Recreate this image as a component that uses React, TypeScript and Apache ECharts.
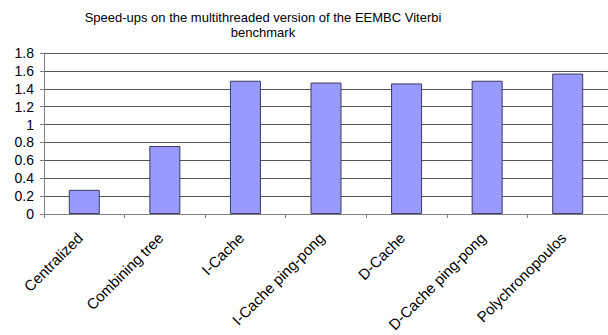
import React, { useEffect, useRef } from "react";
import * as echarts from "echarts";

const categories = [
  "Centralized",
  "Combining tree",
  "I-Cache",
  "I-Cache ping-pong",
  "D-Cache",
  "D-Cache ping-pong",
  "Polychronopoulos",
];
const speedups = [0.27, 0.76, 1.49, 1.47, 1.46, 1.49, 1.57];
const yTicks = { min: 0, max: 1.8, interval: 0.2 };
const titleText = "Speed-ups on the multithreaded version of the EEMBC Viterbi\nbenchmark";

const FONT = "'Liberation Sans', Arial, sans-serif";

export default function App() {
  const ref = useRef<HTMLDivElement>(null);

  useEffect(() => {
    if (!ref.current) return;
    const chart = echarts.init(ref.current, undefined, { renderer: "svg" });
    chart.setOption({
      animation: false,
      backgroundColor: "#ffffff",
      title: {
        text: titleText,
        left: 263,
        top: 10,
        padding: 0,
        textAlign: "center",
        textStyle: {
          fontFamily: FONT,
          fontSize: 13,
          fontWeight: "normal",
          color: "#000",
          lineHeight: 15,
        },
      },
      grid: {
        left: 44,
        right: 0,
        top: 53,
        bottom: 121,
        containLabel: false,
        outerBoundsMode: "none",
      },
      xAxis: {
        type: "category",
        data: categories,
        axisLine: { lineStyle: { color: "#808080", width: 1 } },
        axisTick: { show: true, length: 4, lineStyle: { color: "#808080" } },
        axisLabel: {
          rotate: 45,
          interval: 0,
          margin: 17,
          padding: [0, 6, 0, 0],
          fontFamily: FONT,
          fontSize: 15,
          color: "#000",
        },
      },
      yAxis: {
        type: "value",
        min: yTicks.min,
        max: yTicks.max,
        interval: yTicks.interval,
        axisLine: { show: true, lineStyle: { color: "#808080", width: 1 } },
        axisTick: { show: true, length: 4, lineStyle: { color: "#808080" } },
        axisLabel: {
          margin: 10,
          fontFamily: FONT,
          fontSize: 14,
          color: "#000",
          formatter: (v: number) => String(Math.round(v * 10) / 10),
        },
        splitLine: { show: true, lineStyle: { color: "#555555", width: 1 } },
      },
      series: [
        {
          type: "bar",
          data: speedups,
          barWidth: 31,
          itemStyle: {
            color: "#9999ff",
            borderColor: "#3c3c5c",
            borderWidth: 1,
          },
        },
      ],
    });
    return () => chart.dispose();
  }, []);

  return (
    <div
      ref={ref}
      style={{ position: "fixed", left: 0, top: 0, width: 608, height: 335 }}
    />
  );
}
